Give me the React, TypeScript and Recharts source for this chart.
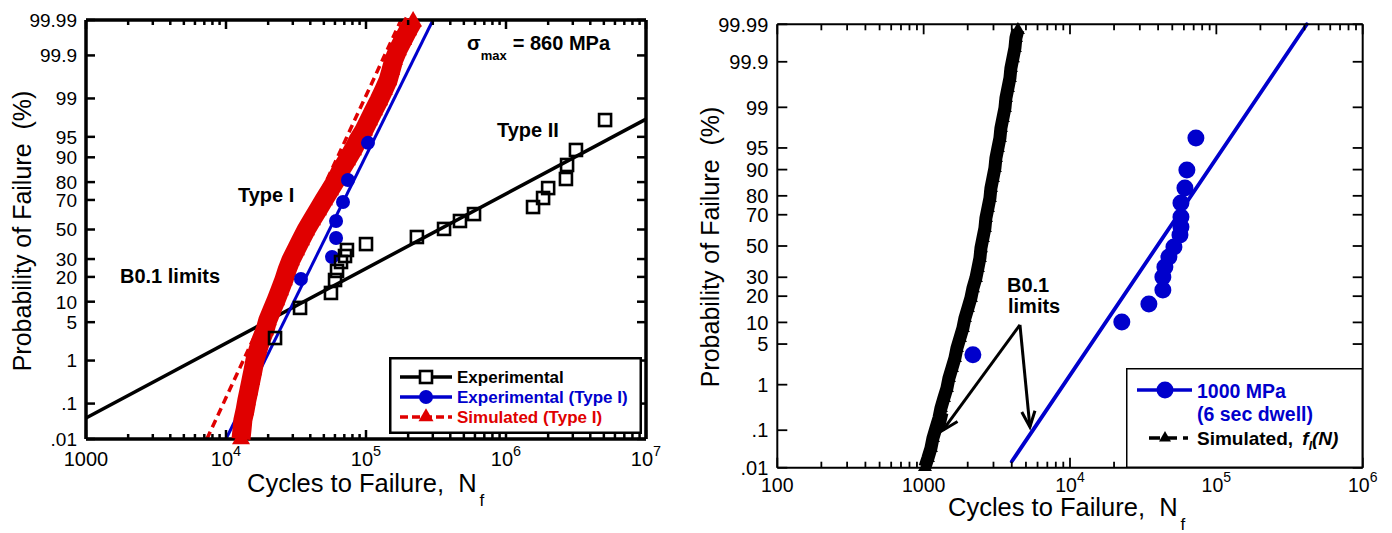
import React from 'react';
import { ComposedChart, Line, Scatter, XAxis, YAxis, ReferenceLine, Legend } from 'recharts';

const FONT = '"Liberation Sans", Arial, Helvetica, sans-serif';
const BLUE = '#0000cc';
const RED = '#e00000';

// ---------- left panel (sigma_max = 860 MPa) ----------
const expCycles = [22400, 33800, 56200, 60100, 62100, 66300, 70800, 73100, 100000, 231000, 361000, 469000, 591000, 1560000, 1840000, 2000000, 2680000, 2730000, 3160000, 5100000];
const expProb = [2.7, 8.2, 13.0, 18.5, 23.1, 28.2, 31.9, 35.8, 39.8, 44.7, 50.4, 56.0, 60.8, 65.5, 71.2, 76.9, 81.5, 87.4, 92.1, 97.4];
const expFitCycles = [1000, 10000000];
const expFitProb = [0.041, 97.5];

const typeICycles = [34300, 57200, 61100, 61100, 68500, 74300, 103300];
const typeIProb = [19.0, 31.3, 44.0, 56.0, 68.7, 81.0, 93.8];
const typeIFitCycles = [10000, 301000];
const typeIFitProb = [0.01, 99.99];

const simCycles = [12800, 13000, 13200, 13700, 14100, 14600, 15100, 15600, 16100, 16900, 17800, 19000, 19900, 21300, 22800, 24300, 25900, 27300, 29100, 31600, 34300, 37300, 41100, 45400, 50100, 55300, 61100, 66300, 73100, 80700, 87700, 96800, 105000, 114000, 124000, 134000, 144000, 151000, 158000, 169000, 184000, 200000, 217000];
const simProb = [0.01, 0.0186, 0.036, 0.068, 0.124, 0.22, 0.38, 0.63, 1.03, 1.62, 2.49, 3.72, 5.4, 7.65, 10.5, 14.1, 18.5, 23.6, 29.4, 35.8, 42.6, 49.6, 56.7, 63.5, 70.0, 75.8, 81.0, 85.5, 89.1, 92.1, 94.4, 96.1, 97.4, 98.3, 98.92, 99.34, 99.6, 99.77, 99.87, 99.928, 99.962, 99.98, 99.989];
const simFitCycles = [7300, 178000];
const simFitProb = [0.01, 99.99];

// ---------- right panel (1000 MPa, 6 sec dwell) ----------
const dwellCycles = [2170, 22600, 34600, 43100, 43100, 44500, 47400, 51300, 56400, 57300, 57300, 57300, 61000, 62900, 72500];
const dwellProb = [3.4, 10.1, 16.5, 23.0, 30.2, 36.2, 42.7, 49.3, 57.3, 62.5, 68.7, 76.5, 83.5, 89.9, 96.5];
const dwellFitCycles = [4000, 415000];
const dwellFitProb = [0.015, 99.99];

const simICycles = [1021, 1070, 1122, 1158, 1213, 1272, 1313, 1376, 1443, 1489, 1561, 1636, 1689, 1770, 1855, 1915, 2007, 2104, 2172, 2276, 2349, 2424, 2463, 2541, 2623, 2664, 2750, 2838, 2883, 2975, 3069, 3118, 3217, 3320, 3373, 3481, 3593, 3650, 3766, 3886, 3948, 4074, 4204, 4271, 4407];
const simIProb = [0.0105, 0.0188, 0.035, 0.064, 0.113, 0.195, 0.328, 0.54, 0.86, 1.34, 2.03, 3.01, 4.35, 6.14, 8.44, 11.35, 14.9, 19.2, 24.0, 29.6, 35.6, 42.0, 48.6, 55.3, 61.9, 68.1, 73.8, 79.0, 83.5, 87.3, 90.46, 93.0, 94.99, 96.5, 97.61, 98.41, 98.97, 99.35, 99.6, 99.758, 99.859, 99.919, 99.955, 99.976, 99.9855];

// B0.1 arrows (annotation anchor points in data units)
const arrowFromCycles = 4550;
const arrowFromProb = 9.3;
const arrowToCycles = [1355, 5320];
const arrowToProb = [0.1, 0.12];

// ---------- ticks ----------
const probTicks = [0.01, 0.1, 1, 5, 10, 20, 30, 50, 70, 80, 90, 95, 99, 99.9, 99.99];
const probLabels = ['.01', '.1', '1', '5', '10', '20', '30', '50', '70', '80', '90', '95', '99', '99.9', '99.99'];
const leftMajors = [1000, 10000, 100000, 1000000, 10000000];
const leftLabels = ['1000', '10^4', '10^5', '10^6', '10^7'];
const rightMajors = [100, 1000, 10000, 100000, 1000000];
const rightLabels = ['100', '1000', '10^4', '10^5', '10^6'];

// inverse normal cdf (Acklam) -> lognormal probability paper
function probit(p: number): number {
  const a = [-39.69683028665376, 220.9460984245205, -275.9285104469687, 138.357751867269, -30.66479806614716, 2.506628277459239];
  const b = [-54.47609879822406, 161.5858368580409, -155.6989798598866, 66.80131188771972, -13.28068155288572];
  const c = [-0.007784894002430293, -0.3223964580411365, -2.400758277161838, -2.549732539343734, 4.374664141464968, 2.938163982698783];
  const d = [0.007784695709041462, 0.3224671290700398, 2.445134137142996, 3.754408661907416];
  const pl = 0.02425;
  if (p < pl) {
    const q = Math.sqrt(-2 * Math.log(p));
    return (((((c[0] * q + c[1]) * q + c[2]) * q + c[3]) * q + c[4]) * q + c[5]) / ((((d[0] * q + d[1]) * q + d[2]) * q + d[3]) * q + 1);
  }
  if (p <= 1 - pl) {
    const q = p - 0.5;
    const r = q * q;
    return ((((((a[0] * r + a[1]) * r + a[2]) * r + a[3]) * r + a[4]) * r + a[5]) * q) / (((((b[0] * r + b[1]) * r + b[2]) * r + b[3]) * r + b[4]) * r + 1);
  }
  const q = Math.sqrt(-2 * Math.log(1 - p));
  return -(((((c[0] * q + c[1]) * q + c[2]) * q + c[3]) * q + c[4]) * q + c[5]) / ((((d[0] * q + d[1]) * q + d[2]) * q + d[3]) * q + 1);
}

const zOf = (pct: number) => probit(pct / 100);
const toPts = (cycles: number[], pct: number[]) => cycles.map((n, i) => ({ n, z: zOf(pct[i]) }));
const withMinors = (majors: number[]) => {
  const out: number[] = [];
  majors.forEach((m, i) => {
    out.push(m);
    if (i < majors.length - 1) for (let k = 2; k <= 9; k++) out.push(m * k);
  });
  return out;
};

const Z_MIN = zOf(0.01);
const Z_MAX = zOf(99.99);
const probZ = probTicks.map(zOf);

const expData = toPts(expCycles, expProb);
const expFit = toPts(expFitCycles, expFitProb);
const typeIData = toPts(typeICycles, typeIProb);
const typeIFit = toPts(typeIFitCycles, typeIFitProb);
const simData = toPts(simCycles, simProb);
const simFit = toPts(simFitCycles, simFitProb);
const dwellData = toPts(dwellCycles, dwellProb);
const dwellFit = toPts(dwellFitCycles, dwellFitProb);
const simIData = toPts(simICycles, simIProb);

// ---------- shapes ----------
const tri = (cx: number, cy: number, s: number) => {
  const h = s * 0.866;
  return `${cx},${cy - (2 * h) / 3} ${cx - s / 2},${cy + h / 3} ${cx + s / 2},${cy + h / 3}`;
};
const Square = (p: any) => <rect x={p.cx - 6} y={p.cy - 6} width={12} height={12} fill="none" stroke="#000" strokeWidth={2.6} />;
const Dot = (r: number) => (p: any) => <circle cx={p.cx} cy={p.cy} r={r} fill={BLUE} />;
const Tri = (s: number, color: string) => (p: any) => <polygon points={tri(p.cx, p.cy, s)} fill={color} />;

const Arrow = (p: any) => {
  const { x1, y1, x2, y2 } = p;
  const ang = Math.atan2(y2 - y1, x2 - x1);
  const L = 17;
  const a = 0.4;
  const h1 = `${x2 - L * Math.cos(ang - a)},${y2 - L * Math.sin(ang - a)}`;
  const h2 = `${x2 - L * Math.cos(ang + a)},${y2 - L * Math.sin(ang + a)}`;
  return (
    <g>
      <line x1={x1} y1={y1} x2={x2} y2={y2} stroke="#000" strokeWidth={3} />
      <polyline points={`${h1} ${x2},${y2} ${h2}`} fill="none" stroke="#000" strokeWidth={3} />
    </g>
  );
};

// ---------- ticks (all pointing into the frame) ----------
const XTick = (p: any) => {
  const { x, y, payload, cfg, top } = p;
  const v = payload.value;
  const mi = cfg.majors.findIndex((m: number) => Math.abs(v / m - 1) < 1e-6);
  const len = mi >= 0 ? cfg.majorLen : cfg.minorLen;
  const dir = top ? 1 : -1;
  const lab: string | null = !top && mi >= 0 ? cfg.labels[mi] : null;
  const parts = lab ? lab.split('^') : [];
  return (
    <g>
      <line x1={x} y1={y} x2={x} y2={y + dir * len} stroke="#000" strokeWidth={cfg.sw} />
      {lab && (
        <text x={x} y={y + cfg.labelDy} textAnchor="middle" fontSize={cfg.fs} fontFamily={FONT} fill="#000">
          {parts[0]}
          {parts[1] && <tspan dy={-10} fontSize={cfg.fs * 0.72}>{parts[1]}</tspan>}
        </text>
      )}
    </g>
  );
};

const YTick = (p: any) => {
  const { x, y, payload, cfg, right } = p;
  let idx = 0;
  probZ.forEach((z, i) => {
    if (Math.abs(z - payload.value) < Math.abs(probZ[idx] - payload.value)) idx = i;
  });
  const dir = right ? -1 : 1;
  return (
    <g>
      <line x1={x} y1={y} x2={x + dir * cfg.len} y2={y} stroke="#000" strokeWidth={cfg.sw} />
      {!right && (
        <text x={x - cfg.gap} y={y} dy="0.36em" textAnchor="end" fontSize={cfg.fs} fontFamily={FONT} fill="#000">
          {probLabels[idx]}
        </text>
      )}
    </g>
  );
};

const leftX = { majors: leftMajors, labels: leftLabels, majorLen: 9, minorLen: 5, sw: 2.5, fs: 20, labelDy: 27 };
const leftY = { len: 9, sw: 2.5, fs: 19, gap: 9 };
const rightX = { majors: rightMajors, labels: rightLabels, majorLen: 10, minorLen: 6, sw: 1.8, fs: 19.5, labelDy: 24 };
const rightY = { len: 10, sw: 1.8, fs: 20, gap: 9 };

// ---------- legends ----------
const LeftLegendBox = () => (
  <svg width={253} height={77} style={{ display: 'block' }}>
    <rect x={1.25} y={1.25} width={250.5} height={74.5} fill="#fff" stroke="#000" strokeWidth={2.5} />
    <g fontFamily={FONT} fontWeight="bold" fontSize={17}>
      <line x1={11} y1={20} x2={63} y2={20} stroke="#000" strokeWidth={3.5} />
      <rect x={31} y={14} width={12} height={12} fill="#fff" stroke="#000" strokeWidth={2.6} />
      <text x={68} y={26} fill="#000">Experimental</text>
      <line x1={11} y1={40} x2={63} y2={40} stroke={BLUE} strokeWidth={3.5} />
      <circle cx={37} cy={40} r={7} fill={BLUE} />
      <text x={68} y={46} fill={BLUE}>Experimental (Type I)</text>
      <line x1={11} y1={60} x2={63} y2={60} stroke={RED} strokeWidth={3.5} strokeDasharray="8 4" />
      <polygon points={tri(37, 60, 15)} fill={RED} />
      <text x={68} y={66} fill={RED}>Simulated (Type I)</text>
    </g>
  </svg>
);

const RightLegendBox = () => (
  <svg width={237} height={100} style={{ display: 'block' }}>
    <rect x={0.75} y={0.75} width={235.5} height={98.5} fill="#fff" stroke="#000" strokeWidth={1.5} />
    <g fontFamily={FONT} fontWeight="bold" fontSize={19.5}>
      <line x1={11} y1={22} x2={66} y2={22} stroke={BLUE} strokeWidth={3.5} />
      <circle cx={39} cy={22} r={8.5} fill={BLUE} />
      <text x={71} y={30} fill={BLUE}>1000 MPa</text>
      <text x={71} y={53} fill={BLUE}>(6 sec dwell)</text>
      <line x1={23} y1={70} x2={62} y2={70} stroke="#000" strokeWidth={3.5} strokeDasharray="11 6" />
      <polygon points={tri(39, 70, 12)} fill="#000" />
      <text x={71} y={77} fill="#000" fontSize={19}>
        Simulated,{' '}
        <tspan fontStyle="italic" dx={4}>f</tspan>
        <tspan fontStyle="italic" fontSize={12} dy={5}>I</tspan>
        <tspan fontStyle="italic" dy={-5}>(N)</tspan>
      </text>
    </g>
  </svg>
);

const frameAxis = (sw: number) => ({ stroke: '#000', strokeWidth: sw });

function LeftChart() {
  return (
    <ComposedChart width={670} height={533} margin={{ top: 19, right: 23, bottom: 93, left: 85 }}>
      <XAxis dataKey="n" type="number" scale="log" domain={[1000, 10000000]} ticks={withMinors(leftMajors)} interval={0}
        height={1} tickSize={0} tickMargin={0} tickLine={false} axisLine={frameAxis(3.5)}
        tick={(p: any) => <XTick {...p} cfg={leftX} />} />
      <XAxis xAxisId="top" orientation="top" dataKey="n" type="number" scale="log" domain={[1000, 10000000]} allowDataOverflow
        ticks={withMinors(leftMajors)} interval={0} height={1} tickSize={0} tickMargin={0} tickLine={false}
        axisLine={frameAxis(3.5)} tick={(p: any) => <XTick {...p} cfg={leftX} top />} />
      <YAxis dataKey="z" type="number" domain={[Z_MIN, Z_MAX]} ticks={probZ} interval={0} width={1} tickSize={0} tickMargin={0}
        tickLine={false} axisLine={frameAxis(3.5)} tick={(p: any) => <YTick {...p} cfg={leftY} />} />
      <YAxis yAxisId="right" orientation="right" type="number" domain={[Z_MIN, Z_MAX]} allowDataOverflow ticks={probZ} interval={0}
        width={1} tickSize={0} tickMargin={0} tickLine={false} axisLine={frameAxis(3.5)}
        tick={(p: any) => <YTick {...p} cfg={leftY} right />} />
      <Line data={expFit} dataKey="z" type="linear" stroke="#000" strokeWidth={3.5} dot={false} isAnimationActive={false} />
      <Line data={typeIFit} dataKey="z" type="linear" stroke={BLUE} strokeWidth={3} dot={false} isAnimationActive={false} />
      <Line data={simFit} dataKey="z" type="linear" stroke={RED} strokeWidth={3.5} strokeDasharray="8 5" dot={false} isAnimationActive={false} />
      <Scatter data={simData} shape={Tri(18, RED)} line={{ stroke: RED, strokeWidth: 19, strokeLinejoin: 'round' }} lineType="joint" isAnimationActive={false} />
      <Scatter data={typeIData} shape={Dot(7)} isAnimationActive={false} />
      <Scatter data={expData} shape={Square} isAnimationActive={false} />
      <Legend layout="horizontal" verticalAlign="middle" align="center"
        wrapperStyle={{ left: 389, top: 357, width: 253, height: 77 }} content={() => <LeftLegendBox />} />
    </ComposedChart>
  );
}

function RightChart() {
  return (
    <ComposedChart width={712} height={533} margin={{ top: 23.3, right: 28.3, bottom: 64.3, left: 96.3 }}>
      <XAxis dataKey="n" type="number" scale="log" domain={[100, 1000000]} ticks={withMinors(rightMajors)} interval={0}
        height={1} tickSize={0} tickMargin={0} tickLine={false} axisLine={frameAxis(2)}
        tick={(p: any) => <XTick {...p} cfg={rightX} />} />
      <XAxis xAxisId="top" orientation="top" dataKey="n" type="number" scale="log" domain={[100, 1000000]} allowDataOverflow
        ticks={withMinors(rightMajors)} interval={0} height={1} tickSize={0} tickMargin={0} tickLine={false}
        axisLine={frameAxis(2)} tick={(p: any) => <XTick {...p} cfg={rightX} top />} />
      <YAxis dataKey="z" type="number" domain={[Z_MIN, Z_MAX]} ticks={probZ} interval={0} width={1} tickSize={0} tickMargin={0}
        tickLine={false} axisLine={frameAxis(2)} tick={(p: any) => <YTick {...p} cfg={rightY} />} />
      <YAxis yAxisId="right" orientation="right" type="number" domain={[Z_MIN, Z_MAX]} allowDataOverflow ticks={probZ} interval={0}
        width={1} tickSize={0} tickMargin={0} tickLine={false} axisLine={frameAxis(2)}
        tick={(p: any) => <YTick {...p} cfg={rightY} right />} />
      <Line data={dwellFit} dataKey="z" type="linear" stroke={BLUE} strokeWidth={3.8} strokeLinecap="round" dot={false} isAnimationActive={false} />
      <Scatter data={simIData} shape={Tri(14, '#000')} line={{ stroke: '#000', strokeWidth: 13, strokeLinejoin: 'round' }} lineType="joint" isAnimationActive={false} />
      <Scatter data={dwellData} shape={Dot(8.5)} isAnimationActive={false} />
      {arrowToCycles.map((n, i) => (
        <ReferenceLine key={i} ifOverflow="visible"
          segment={[{ x: arrowFromCycles, y: zOf(arrowFromProb) }, { x: n, y: zOf(arrowToProb[i]) }]}
          shape={(p: any) => <Arrow {...p} />} />
      ))}
      <Legend layout="horizontal" verticalAlign="middle" align="center"
        wrapperStyle={{ left: 446, top: 368, width: 237, height: 100 }} content={() => <RightLegendBox />} />
    </ComposedChart>
  );
}

export default function App() {
  return (
    <div style={{ position: 'absolute', left: 0, top: 0, width: 1392, height: 533, background: '#fff', fontFamily: FONT }}>
      <div style={{ position: 'absolute', left: 0, top: 0 }}>
        <LeftChart />
      </div>
      <div style={{ position: 'absolute', left: 680, top: 0 }}>
        <RightChart />
      </div>
      <svg width={1392} height={533} style={{ position: 'absolute', left: 0, top: 0, pointerEvents: 'none' }} fontFamily={FONT}>
        {/* left panel titles */}
        <text transform="translate(22,231) rotate(-90)" textAnchor="middle" dominantBaseline="central" fontSize={25} style={{ whiteSpace: 'pre' }}>
          Probability of Failure  (%)
        </text>
        <text x={247} y={492} fontSize={25.5} style={{ whiteSpace: 'pre' }}>
          Cycles to Failure,  N<tspan dx={3} dy={14} fontSize={17}>f</tspan>
        </text>
        {/* left panel notes */}
        <g fontWeight="bold" fontSize={20}>
          <text x={467} y={50}>
            σ<tspan fontSize={13} dy={10}>max</tspan><tspan dy={-10} dx={6}>= 860 MPa</tspan>
          </text>
          <text x={497} y={137}>Type II</text>
          <text x={238} y={202}>Type I</text>
          <text x={120} y={283}>B0.1 limits</text>
        </g>
        {/* right panel titles */}
        <text transform="translate(710,247) rotate(-90)" textAnchor="middle" dominantBaseline="central" fontSize={25} style={{ whiteSpace: 'pre' }}>
          Probability of Failure  (%)
        </text>
        <text x={948} y={516} fontSize={25.5} style={{ whiteSpace: 'pre' }}>
          Cycles to Failure,  N<tspan dx={3} dy={14} fontSize={17}>f</tspan>
        </text>
        <g fontWeight="bold" fontSize={20}>
          <text x={1007} y={292}>B0.1</text>
          <text x={1008} y={313}>limits</text>
        </g>
      </svg>
    </div>
  );
}
